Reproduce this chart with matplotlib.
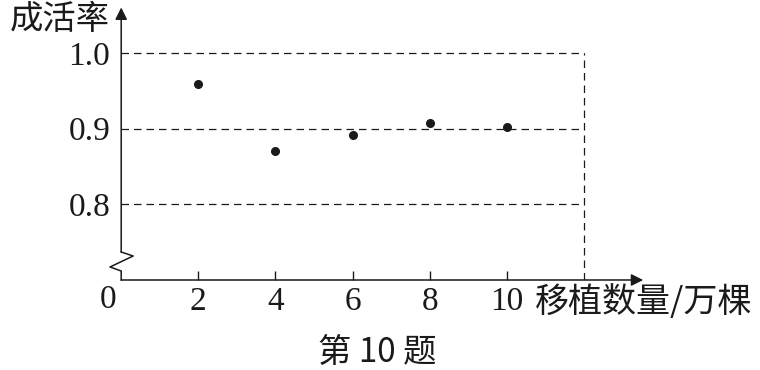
import matplotlib
matplotlib.use('Agg')
import matplotlib.pyplot as plt

# 移植数量 (万棵) and 成活率
counts = [2, 4, 6, 8, 10]
rates = [0.959, 0.871, 0.891, 0.907, 0.902]
y_ticks = [0.8, 0.9, 1.0]
y_tick_labels = ['0.8', '0.9', '1.0']

cjk = ['Noto Sans CJK SC', 'DejaVu Sans']
serif = 'Liberation Serif'
ink = '#1a1a1a'

fig = plt.figure(figsize=(7.6, 3.7), dpi=100)
ax = fig.add_axes([121.2 / 760, 90 / 370, 522 / 760, 272.5 / 370])
x_max = 522 / 38.55
y_min, y_max = 0.7, 0.7 + 272.5 / 757
ax.set_xlim(0, x_max)
ax.set_ylim(y_min, y_max)
for s in ax.spines.values():
    s.set_visible(False)

# dashed guide lines
for y in y_ticks:
    ax.plot([0, 12], [y, y], color=ink, lw=0.9, ls=(0, (6, 4)))
ax.plot([12, 12], [y_min, 1.0], color=ink, lw=0.9, ls=(0, (6, 4)))

# scatter points
ax.plot(counts, rates, 'o', color=ink, markersize=5.5, clip_on=False)

# x axis with arrow
ax.annotate('', xy=(x_max, y_min), xytext=(0, y_min),
            arrowprops=dict(arrowstyle='-|>', color=ink, lw=1.1,
                            mutation_scale=18, shrinkA=0, shrinkB=0),
            annotation_clip=False)
# y axis with break and arrow
brk = 0.737
ax.annotate('', xy=(0, y_max), xytext=(0, brk),
            arrowprops=dict(arrowstyle='-|>', color=ink, lw=1.1,
                            mutation_scale=18, shrinkA=0, shrinkB=0),
            annotation_clip=False)
ax.plot([0, 0.31, -0.29, 0, 0], [brk, 0.7317, 0.7172, 0.7119, y_min],
        color=ink, lw=1.1, clip_on=False)

ax.set_xticks(counts)
ax.set_xticklabels([str(c) for c in counts], fontsize=24, family=serif, color=ink)
ax.tick_params(axis='x', direction='in', length=6.5, width=1, color=ink, pad=5)
ax.set_yticks(y_ticks)
ax.set_yticklabels(y_tick_labels, fontsize=24, family=serif, color=ink)
ax.tick_params(axis='y', length=0, pad=8)

ax.text(-0.35, y_min - 0.006, '0', transform=ax.transData, fontsize=24, family=serif,
        color=ink, ha='center', va='top')
fig.text(10 / 760, 1 - 19 / 370, '成活率', fontsize=24, family=cjk, color=ink,
         ha='left', va='center')
fig.text(535 / 760, 1 - 302 / 370, '移植数量/万棵', fontsize=24.5, family=cjk, color=ink,
         ha='left', va='center')
fig.text(377 / 760, 1 - 352 / 370, '第 10 题', fontsize=24, family=cjk, color=ink,
         ha='center', va='center')

fig.savefig('out.png', dpi=100)
